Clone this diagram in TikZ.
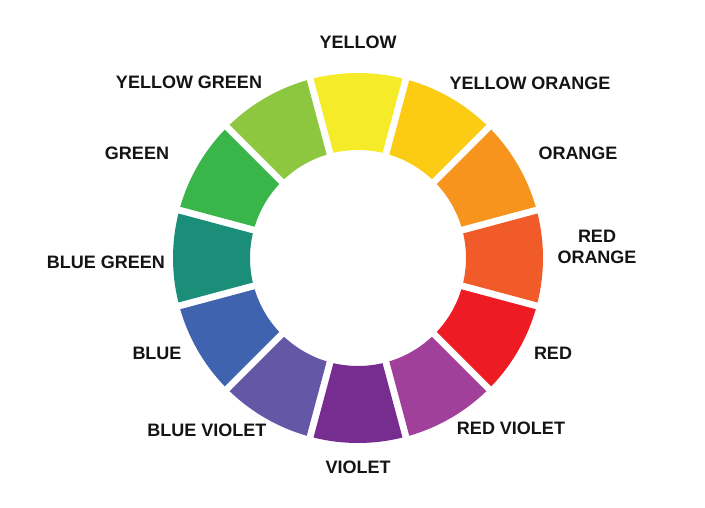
\documentclass[tikz,border=0pt]{standalone}
\usepackage{fontspec}
\setmainfont{Liberation Sans}
\definecolor{cY}{RGB}{246,235,40}
\definecolor{cYO}{RGB}{252,204,20}
\definecolor{cO}{RGB}{247,148,30}
\definecolor{cRO}{RGB}{241,90,41}
\definecolor{cR}{RGB}{237,28,36}
\definecolor{cRV}{RGB}{160,64,155}
\definecolor{cV}{RGB}{118,45,143}
\definecolor{cBV}{RGB}{100,87,166}
\definecolor{cB}{RGB}{63,99,175}
\definecolor{cBG}{RGB}{27,142,122}
\definecolor{cG}{RGB}{57,181,74}
\definecolor{cYG}{RGB}{141,198,63}
\definecolor{txt}{RGB}{20,20,20}
\begin{document}
\begin{tikzpicture}[x=1pt,y=1pt,
  lbl/.style={font=\fontsize{18}{21}\selectfont\bfseries, text=txt, align=center, inner sep=0pt}]
\useasboundingbox (0,0) rectangle (705,507);
\fill[white] (0,0) rectangle (705,507);
\coordinate (c) at (358,249);
\foreach \ang/\col in {90/cY,120/cYG,150/cG,180/cBG,210/cB,240/cBV,270/cV,300/cRV,330/cR,360/cRO,30/cO,60/cYO}{
  \pgfmathsetmacro{\oa}{\ang-13.916}
  \pgfmathsetmacro{\ob}{\ang+13.916}
  \pgfmathsetmacro{\ia}{\ang+13.143}
  \pgfmathsetmacro{\ib}{\ang-13.143}
  \fill[\col] ([shift={(\oa:185pt)}]c) arc[start angle=\oa, end angle=\ob, radius=185pt]
    -- ([shift={(\ia:108pt)}]c) arc[start angle=\ia, end angle=\ib, radius=108pt] -- cycle;
}
\node[lbl] (lY)  at (358,465) {YELLOW};
\node[lbl] (lYG) at (189,425) {YELLOW GREEN};
\node[lbl] (lYO) at (530,424) {YELLOW ORANGE};
\node[lbl] (lG)  at (137,354) {GREEN};
\node[lbl] (lO)  at (578,354) {ORANGE};
\node[lbl] (lBG) at (106,245) {BLUE GREEN};
\node[lbl] (lRO) at (597,260) {RED\\ORANGE};
\node[lbl] (lB)  at (157,154) {BLUE};
\node[lbl] (lR)  at (553,154) {RED};
\node[lbl] (lBV) at (207,77)  {BLUE VIOLET};
\node[lbl] (lRV) at (511,79)  {RED VIOLET};
\node[lbl] (lV)  at (358,40)  {VIOLET};
\end{tikzpicture}
\end{document}
